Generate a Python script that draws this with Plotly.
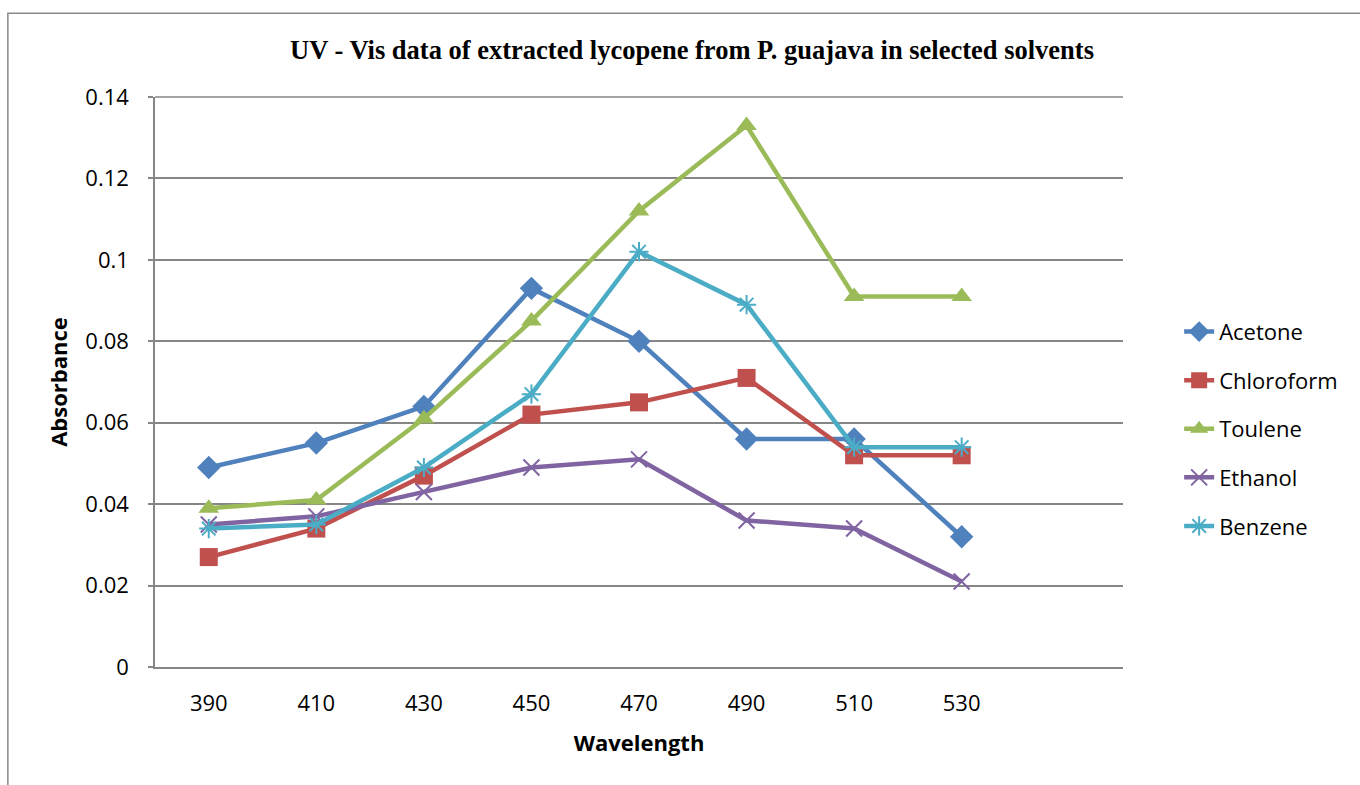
import plotly.graph_objects as go

wavelength = [390, 410, 430, 450, 470, 490, 510, 530]
acetone = [0.049, 0.055, 0.064, 0.093, 0.080, 0.056, 0.056, 0.032]
chloroform = [0.027, 0.034, 0.047, 0.062, 0.065, 0.071, 0.052, 0.052]
toulene = [0.039, 0.041, 0.061, 0.085, 0.112, 0.133, 0.091, 0.091]
ethanol = [0.035, 0.037, 0.043, 0.049, 0.051, 0.036, 0.034, 0.021]
benzene = [0.034, 0.035, 0.049, 0.067, 0.102, 0.089, 0.054, 0.054]

y_ticks = [0, 0.02, 0.04, 0.06, 0.08, 0.1, 0.12, 0.14]
y_tick_labels = ["0", "0.02", "0.04", "0.06", "0.08", "0.1", "0.12", "0.14"]

series = [
    ("Acetone", acetone, "#4F81BD", dict(symbol="diamond", size=18)),
    ("Chloroform", chloroform, "#C0504D", dict(symbol="square", size=18)),
    ("Toulene", toulene, "#9BBB59", dict(symbol="triangle-up", size=18)),
    ("Ethanol", ethanol, "#8064A2", dict(symbol="x-thin", size=16, line=dict(width=2, color="#8064A2"))),
    ("Benzene", benzene, "#4BACC6", dict(symbol="asterisk", size=16, line=dict(width=2, color="#4BACC6"))),
]

fig = go.Figure()
for name, vals, color, mk in series:
    fig.add_trace(go.Scatter(
        x=wavelength, y=vals, name=name, mode="lines+markers",
        line=dict(color=color, width=4.5),
        marker=dict(color=color, **mk),
        legendgroup=name,
    ))

fig.update_layout(
    width=1360, height=785,
    margin=dict(l=155, r=237, t=97, b=118),
    paper_bgcolor="white", plot_bgcolor="white",
    font=dict(family="Open Sans, Liberation Sans, sans-serif", size=22, color="black"),
    showlegend=True,
    legend=dict(x=1.058, y=0.418, xanchor="left", yanchor="middle",
                font=dict(size=22), tracegroupgap=17, bgcolor="rgba(0,0,0,0)"),
    annotations=[dict(
        text="<b>UV - Vis data of extracted lycopene from P. guajava in selected solvents</b>",
        x=0.555, y=1.0825, xref="paper", yref="paper", showarrow=False,
        font=dict(family="Liberation Serif, Times New Roman, serif", size=26.5, color="black"),
        xanchor="center", yanchor="middle")],
    shapes=[dict(type="rect", xref="paper", yref="paper",
                 x0=-0.152, x1=1.5, y0=-0.5, y1=1.147,
                 line=dict(color="#898989", width=1.5), fillcolor="rgba(0,0,0,0)", layer="below")],
)

fig.update_xaxes(
    range=[380, 560], tickvals=wavelength, ticktext=[str(w) for w in wavelength],
    showgrid=False, zeroline=False, showline=True, linecolor="#868686", linewidth=1.5,
    ticks="", ticklabelstandoff=16,
    title=dict(text="<b>Wavelength</b>", font=dict(size=22), standoff=19),
)
fig.update_yaxes(
    range=[0, 0.14], tickvals=y_ticks, ticktext=y_tick_labels,
    showgrid=True, gridcolor="#868686", gridwidth=1.5,
    zeroline=False, showline=True, linecolor="#868686", linewidth=1.5,
    ticks="outside", ticklen=5, tickcolor="#868686", tickwidth=1.5,
    ticklabelstandoff=15,
    title=dict(text="<b>Absorbance</b>", font=dict(size=22), standoff=12),
)
fig.add_shape(type="line", xref="paper", yref="paper", x0=0, x1=1, y0=1, y1=1,
              line=dict(color="#868686", width=1.5))

fig.write_html("out.html")
